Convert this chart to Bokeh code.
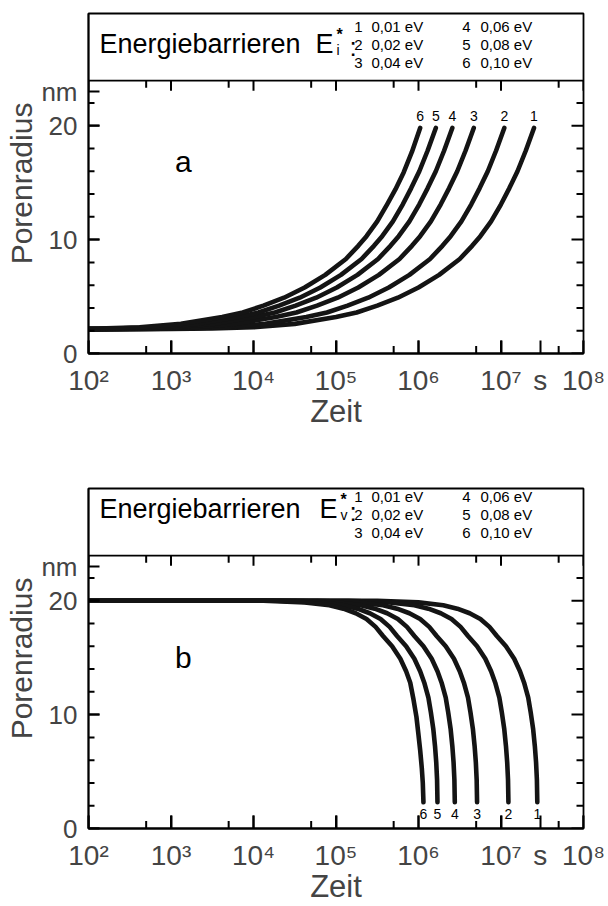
import numpy as np
from bokeh.plotting import figure
from bokeh.models import FixedTicker, Label, Span
from bokeh.layouts import column
from bokeh.embed import file_html
from bokeh.resources import INLINE

FONT = "Liberation Sans"

# ---------------- data (log10 of time in s, pore radius in nm)
# panel a  (barriers E_i*)
A1_LOGT = [2.0, 3.0, 3.5, 4.0, 4.5, 5.0, 5.25, 5.5, 5.75, 6.0, 6.25, 6.5, 6.65, 6.75, 6.88, 7.0, 7.1, 7.2, 7.3, 7.4]
A1_R = [2.1, 2.15, 2.2, 2.3, 2.6, 3.2, 3.6, 4.2, 4.9, 5.8, 6.9, 8.3, 9.45, 10.3, 11.6, 13.1, 14.5, 16.0, 17.8, 19.8]
A2_LOGT = [2.0, 2.64, 3.14, 3.64, 4.14, 4.64, 4.89, 5.14, 5.39, 5.64, 5.89, 6.14, 6.29, 6.39, 6.52, 6.64, 6.74, 6.84, 6.94, 7.04]
A2_R = [2.12, 2.15, 2.2, 2.3, 2.6, 3.2, 3.6, 4.2, 4.9, 5.8, 6.9, 8.3, 9.45, 10.3, 11.6, 13.1, 14.5, 16.0, 17.8, 19.8]
A3_LOGT = [2.0, 2.27, 2.77, 3.27, 3.77, 4.27, 4.52, 4.77, 5.02, 5.27, 5.52, 5.77, 5.92, 6.02, 6.15, 6.27, 6.37, 6.47, 6.57, 6.67]
A3_R = [2.14, 2.15, 2.2, 2.3, 2.6, 3.2, 3.6, 4.2, 4.9, 5.8, 6.9, 8.3, 9.45, 10.3, 11.6, 13.1, 14.5, 16.0, 17.8, 19.8]
A4_LOGT = [2.0, 2.51, 3.01, 3.51, 4.01, 4.26, 4.51, 4.76, 5.01, 5.26, 5.51, 5.66, 5.76, 5.89, 6.01, 6.11, 6.21, 6.31, 6.41]
A4_R = [2.15, 2.2, 2.3, 2.6, 3.2, 3.6, 4.2, 4.9, 5.8, 6.9, 8.3, 9.45, 10.3, 11.6, 13.1, 14.5, 16.0, 17.8, 19.8]
A5_LOGT = [2.0, 2.31, 2.81, 3.31, 3.81, 4.06, 4.31, 4.56, 4.81, 5.06, 5.31, 5.46, 5.56, 5.69, 5.81, 5.91, 6.01, 6.11, 6.21]
A5_R = [2.17, 2.2, 2.3, 2.6, 3.2, 3.6, 4.2, 4.9, 5.8, 6.9, 8.3, 9.45, 10.3, 11.6, 13.1, 14.5, 16.0, 17.8, 19.8]
A6_LOGT = [2.0, 2.12, 2.62, 3.12, 3.62, 3.87, 4.12, 4.37, 4.62, 4.87, 5.12, 5.27, 5.37, 5.50, 5.62, 5.72, 5.82, 5.92, 6.02]
A6_R = [2.18, 2.2, 2.3, 2.6, 3.2, 3.6, 4.2, 4.9, 5.8, 6.9, 8.3, 9.45, 10.3, 11.6, 13.1, 14.4, 15.9, 17.7, 19.8]

# panel b  (barriers E_v*)
B1_LOGT = [2.0, 5.5, 6.0, 6.3, 6.47, 6.62, 6.75, 6.86, 6.95, 7.06, 7.16, 7.23, 7.28, 7.33, 7.36, 7.39, 7.41, 7.425, 7.435, 7.44]
B1_R = [20.0, 20.0, 19.85, 19.6, 19.3, 18.9, 18.4, 17.7, 16.9, 16.0, 14.9, 13.8, 12.8, 11.5, 10.2, 8.7, 7.25, 5.8, 4.3, 2.3]
B2_LOGT = [2.0, 5.15, 5.65, 5.95, 6.12, 6.27, 6.40, 6.51, 6.60, 6.71, 6.81, 6.88, 6.93, 6.98, 7.01, 7.04, 7.06, 7.075, 7.085, 7.09]
B2_R = [20.0, 20.0, 19.85, 19.6, 19.3, 18.9, 18.4, 17.7, 16.9, 16.0, 14.9, 13.8, 12.8, 11.5, 10.2, 8.7, 7.25, 5.8, 4.3, 2.3]
B3_LOGT = [2.0, 4.77, 5.27, 5.57, 5.74, 5.89, 6.02, 6.13, 6.22, 6.33, 6.43, 6.50, 6.55, 6.60, 6.63, 6.66, 6.68, 6.695, 6.705, 6.71]
B3_R = [20.0, 20.0, 19.85, 19.6, 19.3, 18.9, 18.4, 17.7, 16.9, 16.0, 14.9, 13.8, 12.8, 11.5, 10.2, 8.7, 7.25, 5.8, 4.3, 2.3]
B4_LOGT = [2.0, 4.5, 5.0, 5.3, 5.47, 5.62, 5.75, 5.86, 5.95, 6.06, 6.16, 6.23, 6.28, 6.33, 6.36, 6.39, 6.41, 6.425, 6.435, 6.44]
B4_R = [20.0, 20.0, 19.85, 19.6, 19.3, 18.9, 18.4, 17.7, 16.9, 16.0, 14.9, 13.8, 12.8, 11.5, 10.2, 8.7, 7.25, 5.8, 4.3, 2.3]
B5_LOGT = [2.0, 4.29, 4.79, 5.09, 5.26, 5.41, 5.54, 5.65, 5.74, 5.85, 5.95, 6.02, 6.07, 6.12, 6.15, 6.18, 6.20, 6.215, 6.225, 6.23]
B5_R = [20.0, 20.0, 19.85, 19.6, 19.3, 18.9, 18.4, 17.7, 16.9, 16.0, 14.9, 13.8, 12.8, 11.5, 10.2, 8.7, 7.25, 5.8, 4.3, 2.3]
B6_LOGT = [2.0, 4.12, 4.62, 4.92, 5.09, 5.24, 5.37, 5.48, 5.57, 5.68, 5.78, 5.85, 5.90, 5.94, 5.975, 6.0, 6.02, 6.04, 6.052, 6.06]
B6_R = [20.0, 20.0, 19.85, 19.6, 19.3, 18.9, 18.4, 17.7, 16.9, 16.0, 14.9, 13.8, 12.8, 11.3, 9.8, 8.2, 6.9, 5.3, 4.0, 2.3]

CURVE_NUMS = ["1", "2", "3", "4", "5", "6"]
ENERGY_NUMS = ["1", "2", "3", "4", "5", "6"]
ENERGY_EV = ["0,01 eV", "0,02 eV", "0,04 eV", "0,06 eV", "0,08 eV", "0,10 eV"]

X_MAJOR = [1e2, 1e3, 1e4, 1e5, 1e6, 1e7, 1e8]
X_LABELS = ["10\u00b2", "10\u00b3", "10\u2074", "10\u2075", "10\u2076", "10\u2077", "10\u2078"]
X_MINOR = [5e2, 5e3, 5e4, 5e5, 5e6, 5e7]
X_UNIT_POS = 3.0e7
X_UNIT = "s"
Y_MAJOR = [0, 10, 20]
Y_LABELS = ["0", "10", "20"]
Y_MINOR = [2, 4, 6, 8, 12, 14, 16, 18, 22]
Y_UNIT_POS = 23.0
Y_UNIT = "nm"
Y_TOP = 29.85      # top of the legend box (same frame)
SEP = 23.95        # line between legend box and plot

LINE_COLOR = "#141414"
FRAME_W = 495      # px, frame width (608 - 88 - 25)


def lbl(p, **kw):
    base = dict(text_font=FONT, text_color="black", text_align="left",
                text_baseline="alphabetic")
    base.update(kw)
    p.add_layout(Label(**base))


def make_panel(logts, rs, letter, letter_y, sub, top_labels, height, mb_bottom,
               title_dy, rows_dy, e_dx):
    frame_h = height - 13 - mb_bottom
    px_unit = frame_h / Y_TOP
    px_dec = FRAME_W / np.log10(X_MAJOR[-1] / X_MAJOR[0])

    p = figure(width=608, height=height, x_axis_type="log",
               x_range=(X_MAJOR[0], X_MAJOR[-1]), y_range=(0, Y_TOP),
               output_backend="svg", toolbar_location=None,
               min_border_left=88, min_border_right=25, min_border_top=13,
               min_border_bottom=mb_bottom)
    p.grid.visible = False
    p.background_fill_color = "white"
    p.border_fill_color = "white"
    p.outline_line_color = "black"
    p.outline_line_width = 1.8

    xa = p.xaxis[0]
    xa.ticker = FixedTicker(ticks=X_MAJOR + [X_UNIT_POS], minor_ticks=[])
    ov = {t: s for t, s in zip(X_MAJOR, X_LABELS)}
    ov[X_UNIT_POS] = X_UNIT
    xa.major_label_overrides = ov
    xa.major_tick_out = 0
    xa.major_tick_in = 13
    xa.major_tick_line_color = "black"
    xa.major_tick_line_width = 2
    xa.minor_tick_line_color = "black"
    xa.minor_tick_line_width = 2
    xa.axis_line_width = 1.8
    xa.major_label_text_font = FONT
    xa.major_label_text_font_size = "28px"
    xa.major_label_standoff = 11
    xa.axis_label = "Zeit"
    xa.axis_label_text_font = FONT
    xa.axis_label_text_font_size = "31px"
    xa.axis_label_text_font_style = "normal"
    xa.axis_label_standoff = -5

    ya = p.yaxis[0]
    ya.ticker = FixedTicker(ticks=Y_MAJOR + [Y_UNIT_POS], minor_ticks=[])
    ovy = {t: s for t, s in zip(Y_MAJOR, Y_LABELS)}
    ovy[Y_UNIT_POS] = Y_UNIT
    ya.major_label_overrides = ovy
    ya.major_tick_out = 0
    ya.major_tick_in = 11
    ya.major_tick_line_color = "black"
    ya.major_tick_line_width = 2
    ya.minor_tick_line_color = "black"
    ya.minor_tick_line_width = 2
    ya.axis_line_width = 1.8
    ya.major_label_text_font = FONT
    ya.major_label_text_font_size = "26px"
    ya.major_label_standoff = 11
    ya.axis_label = "Porenradius"
    ya.axis_label_text_font = FONT
    ya.axis_label_text_font_size = "30px"
    ya.axis_label_text_font_style = "normal"
    ya.axis_label_standoff = 0

    p.add_layout(Span(location=SEP, dimension="width", line_color="black",
                      line_width=1.8))

    for lt, r, num in zip(logts, rs, CURVE_NUMS):
        x = 10 ** np.array(lt)
        p.line(x, r, line_width=4.6, line_color=LINE_COLOR, line_cap="round",
               line_join="round")
        lbl(p, x=x[-1], y=r[-1], y_offset=12 if top_labels else -12, text=num,
            text_font_size="14px", text_align="center")

    # inward tick marks (lengths given in screen pixels, converted to data units)
    tx0, ty0, tx1, ty1 = [], [], [], []

    def vticks(xs, y0, length_px):
        for x in xs:
            tx0.append(float(x)); tx1.append(float(x))
            ty0.append(float(y0)); ty1.append(float(y0) + length_px / px_unit)

    def hticks(x0, ys, length_px):
        for y in ys:
            tx0.append(float(x0)); tx1.append(float(x0) * 10 ** (length_px / px_dec))
            ty0.append(float(y)); ty1.append(float(y))

    vticks(X_MAJOR, 0, 13)
    vticks(X_MINOR, 0, 7.5)
    vticks(X_MAJOR, SEP, -10)
    vticks(X_MINOR, SEP, -7)
    hticks(X_MAJOR[0], Y_MAJOR, 11)
    hticks(X_MAJOR[0], Y_MINOR, 6)
    hticks(X_MAJOR[-1], Y_MAJOR, -12)
    hticks(X_MAJOR[-1], Y_MINOR, -7)
    p.multi_line(xs=[[a, b] for a, b in zip(tx0, tx1)],
                 ys=[[a, b] for a, b in zip(ty0, ty1)],
                 line_color="black", line_width=2)

    # panel letter
    lbl(p, x=1.41e3, y=letter_y, text=letter, text_font_size="30px", text_align="center")

    # legend box
    x0 = X_MAJOR[0]
    lbl(p, x=x0, y=SEP, x_offset=11, y_offset=37 + title_dy, text="Energiebarrieren",
        text_font_size="27px")
    lbl(p, x=x0, y=SEP, x_offset=227 + e_dx, y_offset=37 + title_dy, text="E",
        text_font_size="27px")
    lbl(p, x=x0, y=SEP, x_offset=248 + e_dx, y_offset=46 + title_dy, text="*",
        text_font_size="16px", text_font_style="bold")
    lbl(p, x=x0, y=SEP, x_offset=248 + e_dx, y_offset=31 + title_dy, text=sub,
        text_font_size="14px")
    lbl(p, x=x0, y=SEP, x_offset=261, y_offset=34 + title_dy, text=":",
        text_font_size="26px")
    row_base = [54, 36, 18]
    for i, (n, ev) in enumerate(zip(ENERGY_NUMS, ENERGY_EV)):
        col, row = divmod(i, 3)
        yo = row_base[row] + rows_dy
        lbl(p, x=x0, y=SEP, x_offset=[270, 378][col], y_offset=yo, text=n,
            text_font_size="15px", text_align="center")
        lbl(p, x=x0, y=SEP, x_offset=[283, 392][col], y_offset=yo, text=ev,
            text_font_size="15px")
    return p


pa = make_panel([A1_LOGT, A2_LOGT, A3_LOGT, A4_LOGT, A5_LOGT, A6_LOGT],
                [A1_R, A2_R, A3_R, A4_R, A5_R, A6_R],
                "a", 16.9, "i", True, 475, 122, 0, 0, 0)
pb = make_panel([B1_LOGT, B2_LOGT, B3_LOGT, B4_LOGT, B5_LOGT, B6_LOGT],
                [B1_R, B2_R, B3_R, B4_R, B5_R, B6_R],
                "b", 15.0, "v", False, 431, 77, 10, 5, 4)

layout = column(pa, pb, spacing=0)
open("out.html", "w").write(file_html(layout, INLINE))
